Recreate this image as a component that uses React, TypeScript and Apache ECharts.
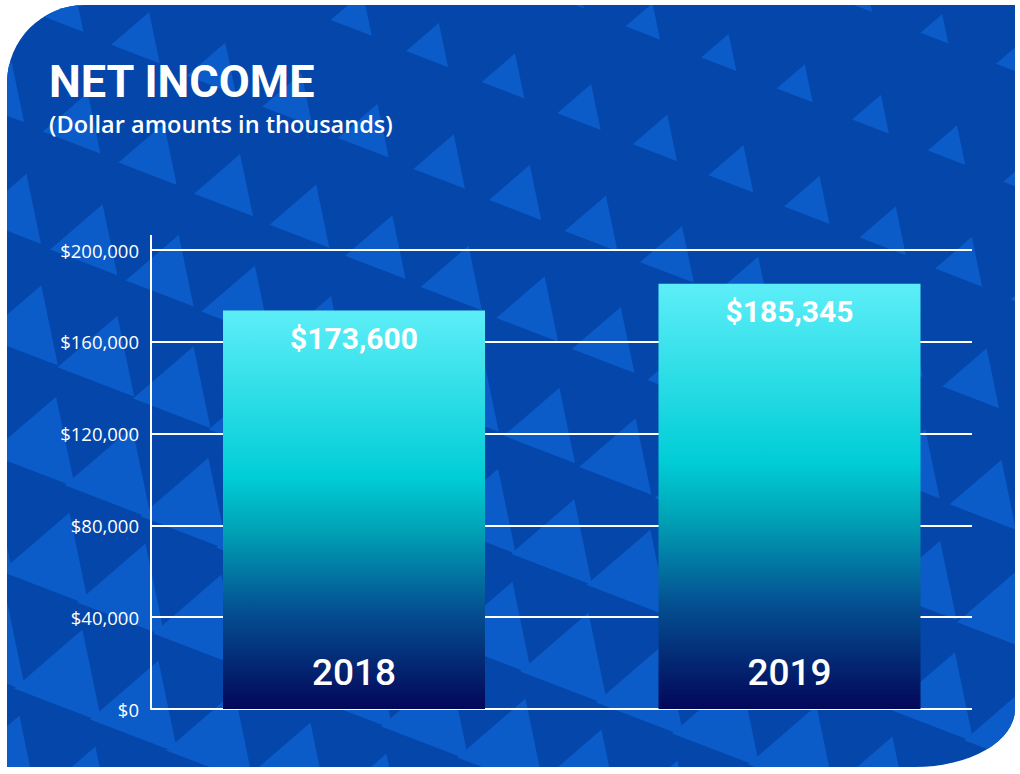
import React, { useEffect, useRef } from "react";
import * as echarts from "echarts";

const years = ["2018", "2019"];
const netIncome = [173600, 185345];
const yMin = 0;
const yMax = 200000;
const yStep = 40000;

const fmtMoney = (v: number) => "$" + v.toLocaleString("en-US");

function buildTriangles() {
  const a = [76, 31];
  const b = [13, 117];
  const g0 = [659, 140];
  const base = [
    [-43.3, 7],
    [29.7, 35],
    [13.7, -42],
  ];
  const out: any[] = [];
  for (let i = -16; i <= 16; i++) {
    for (let j = -8; j <= 12; j++) {
      const cx = g0[0] + i * a[0] + j * b[0];
      const cy = g0[1] + i * a[1] + j * b[1];
      if (cx < -100 || cx > 1120 || cy < -100 || cy > 880) continue;
      let s = 0.32 + 0.9 * (cy / 774) + 0.35 * (1 - cx / 1020);
      s = Math.max(0.3, Math.min(1.2, s));
      out.push({
        type: "polygon",
        silent: true,
        z: -10,
        shape: { points: base.map((p) => [cx + p[0] * s, cy + p[1] * s]) },
        style: { fill: "#0B5BC8" },
      });
    }
  }
  return out;
}

export default function App() {
  const ref = useRef<HTMLDivElement>(null);

  useEffect(() => {
    if (!ref.current) return;
    const chart = echarts.init(ref.current, undefined, { renderer: "svg" });
    const barGradient = new echarts.graphic.LinearGradient(0, 0, 0, 1, [
      { offset: 0, color: "#5DEEF8" },
      { offset: 0.42, color: "#00CDD6" },
      { offset: 0.55, color: "#00A3B6" },
      { offset: 0.75, color: "#045192" },
      { offset: 1, color: "#03075A" },
    ]);
    const option: any = {
      animation: false,
      backgroundColor: "transparent",
      graphic: [
        ...buildTriangles(),
        {
          type: "text",
          z: 10,
          left: 49,
          top: 59,
          style: {
            text: "NET INCOME",
            fill: "#FFFFFF",
            font: "bold 45px Roboto",
          },
        },
        {
          type: "text",
          z: 10,
          left: 49,
          top: 112,
          style: {
            text: "(Dollar amounts in thousands)",
            fill: "#FFFFFF",
            font: "600 23.5px 'Open Sans'",
          },
        },
        {
          type: "line",
          z: 5,
          shape: { x1: 151, y1: 235, x2: 151, y2: 250 },
          style: { stroke: "#FFFFFF", lineWidth: 2 },
        },
      ],
      grid: [
        { left: 151, right: 48, top: 250, bottom: 65 },
        { left: 136.25, right: 12.75, top: 250, bottom: 65 },
      ],
      xAxis: [
        { type: "category", gridIndex: 0, data: years, show: false },
        {
          type: "category",
          gridIndex: 1,
          data: years,
          axisLine: { show: false },
          axisTick: { show: false },
          axisLabel: {
            inside: true,
            margin: 18,
            color: "#FFFFFF",
            fontFamily: "Roboto",
            fontWeight: 500,
            fontSize: 37,
            lineHeight: 37,
          },
          z: 10,
        },
      ],
      yAxis: [
        {
          type: "value",
          gridIndex: 0,
          min: yMin,
          max: yMax,
          interval: yStep,
          axisLine: { show: true, lineStyle: { color: "#FFFFFF", width: 2 } },
          axisTick: { show: false },
          axisLabel: {
            color: "#FFFFFF",
            fontFamily: "'Open Sans'",
            fontSize: 18.5,
            margin: 12,
            formatter: (v: number) => fmtMoney(v),
          },
          splitLine: { show: true, lineStyle: { color: "#FFFFFF", width: 2 } },
        },
        {
          type: "value",
          gridIndex: 1,
          min: yMin,
          max: yMax,
          interval: yStep,
          show: false,
          splitLine: { show: false },
        },
      ],
      series: [
        {
          type: "bar",
          xAxisIndex: 1,
          yAxisIndex: 1,
          data: netIncome,
          barWidth: 262,
          z: 5,
          itemStyle: { color: barGradient },
          label: {
            show: true,
            position: "insideTop",
            distance: 13,
            color: "#FFFFFF",
            fontFamily: "Roboto",
            fontWeight: "bold",
            fontSize: 30,
            lineHeight: 30,
            formatter: (p: any) => fmtMoney(p.value),
          },
        },
      ],
    };
    chart.setOption(option);
    return () => chart.dispose();
  }, []);

  return (
    <div
      style={{
        position: "fixed",
        left: 0,
        top: 0,
        width: 1020,
        height: 774,
        background: "#FFFFFF",
      }}
    >
      <div
        style={{
          position: "absolute",
          left: 7,
          top: 5,
          width: 1008,
          height: 762,
          overflow: "hidden",
          background: "#0446A9",
          borderRadius: "78px 0 100px 0 / 78px 0 58px 0",
        }}
      >
        <div
          ref={ref}
          style={{ position: "absolute", left: -7, top: -5, width: 1020, height: 774 }}
        />
      </div>
    </div>
  );
}
